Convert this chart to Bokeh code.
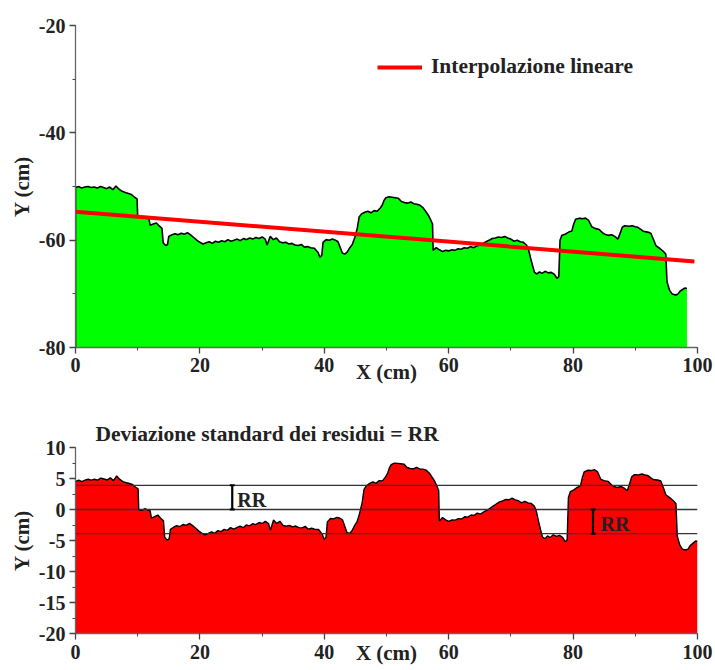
import numpy as np
from bokeh.plotting import figure
from bokeh.layouts import column
from bokeh.models import SingleIntervalTicker, Range1d, Legend, LegendItem, PrintfTickFormatter
from bokeh.embed import file_html
from bokeh.resources import INLINE

# ---- data ----
x_cm = [0.0, 0.5, 1.0, 1.5, 2.0, 2.5, 3.0, 3.5, 4.0, 4.5, 5.0, 5.5, 6.0, 6.5, 7.0, 7.5, 8.0, 8.5, 9.0, 9.5, 9.9,
        10.0, 10.5, 11.0, 11.5, 11.8, 12.0, 12.5, 13.0, 13.5, 13.9, 14.1, 14.5, 14.8, 15.0, 15.5, 16.0, 16.5,
        17.0, 17.5, 18.0, 18.5, 19.0, 19.5, 20.0, 20.5, 21.0, 21.5, 22.0, 22.5, 23.0, 23.5, 24.0, 24.5, 25.0,
        25.5, 26.0, 26.5, 27.0, 27.5, 28.0, 28.5, 29.0, 29.5, 30.0, 30.5, 30.8, 31.3, 31.8, 32.3, 32.8, 33.3,
        33.8, 34.3, 34.8, 35.3, 35.8, 36.3, 36.8, 37.3, 37.8, 38.4, 39.0, 39.3, 39.6, 39.8, 40.3, 40.8, 41.3,
        41.8, 42.2, 42.5, 42.9, 43.3, 43.7, 44.1, 44.5, 44.9, 45.3, 45.6, 46.0, 46.5, 47.0, 47.5, 48.0, 48.5,
        49.0, 49.3, 49.6, 49.9, 50.4, 50.9, 51.4, 51.9, 52.4, 52.9, 53.4, 53.9, 54.4, 54.9, 55.4, 55.9, 56.4,
        56.8, 57.1, 57.4, 57.5, 58.0, 58.5, 59.0, 59.5, 60.0, 60.5, 61.0, 61.5, 62.0, 62.5, 63.0, 63.5, 64.0,
        64.5, 65.0, 65.5, 66.0, 66.5, 67.0, 67.5, 68.0, 68.5, 69.0, 69.5, 70.0, 70.5, 71.0, 71.5, 72.0, 72.5,
        72.8, 73.2, 73.5, 73.8, 74.2, 74.6, 75.0, 75.5, 76.0, 76.5, 77.0, 77.4, 77.7, 77.9, 78.2, 78.7, 79.3,
        79.8, 80.1, 80.4, 81.0, 81.5, 82.0, 82.5, 83.0, 83.5, 84.2, 84.7, 85.1, 85.6, 86.2, 86.7, 87.2, 87.6,
        87.9, 88.3, 89.0, 89.5, 90.0, 90.4, 91.0, 91.4, 92.0, 92.5, 93.0, 93.3, 94.0, 94.6, 94.9, 95.1, 95.5,
        95.9, 96.4, 96.8, 97.2, 97.6, 98.0, 98.3]
y_cm = [-50.2, -50.0, -50.3, -50.1, -50.0, -50.2, -50.1, -50.3, -50.0, -50.2, -50.4, -50.1, -50.6, -49.9, -50.5,
        -50.9, -51.1, -51.3, -51.5, -52.0, -52.3,
        -55.7, -55.8, -55.6, -55.9, -56.0, -57.2, -57.0, -56.8, -57.4, -57.8, -60.5, -61.0, -60.8, -59.3, -59.0,
        -58.8, -59.0, -58.7, -58.9, -58.6, -59.0, -59.5, -60.0, -60.4, -60.7, -60.5, -60.3, -60.6, -60.2, -60.4,
        -60.1, -60.3, -59.9, -60.2, -60.0, -59.8, -60.1, -59.7, -59.9, -59.6, -59.8, -59.5, -59.7, -59.4, -59.8,
        -60.9, -59.3, -59.9, -59.6, -60.3, -60.5, -60.4, -60.7, -60.6, -60.9, -61.0, -60.8, -61.3, -61.2, -61.4,
        -61.5, -62.3, -63.2, -62.8, -60.4, -59.9, -60.0, -59.8, -60.0, -60.3, -61.2, -62.4, -62.6, -62.2, -61.4,
        -60.8, -59.5, -57.8, -55.7, -55.1, -54.8, -54.6, -54.9, -54.5, -54.6, -54.0, -53.5, -52.6, -52.1, -51.9,
        -52.0, -52.1, -52.2, -52.8, -53.0, -53.1, -52.9, -53.2, -53.3, -53.5, -54.0, -54.8, -55.5, -56.2, -57.0,
        -61.9, -61.4, -61.8, -62.1, -61.9, -62.0, -61.8, -61.9, -61.6, -61.7, -61.4, -61.5, -61.2, -61.4, -61.1,
        -60.9, -60.6, -60.3, -60.0, -59.7, -59.6, -59.4, -59.5, -59.3, -59.6, -59.8, -60.2, -60.0, -60.3, -60.4,
        -60.9, -61.6, -63.5, -64.8, -66.0, -66.3, -65.9, -66.2, -65.8, -66.1, -66.0, -66.4, -67.1, -66.8, -60.0,
        -59.1, -58.9, -58.5, -58.3, -57.0, -56.1, -55.9, -56.0, -55.9, -56.3, -57.5, -57.8, -58.0, -58.6, -58.9,
        -59.1, -59.0, -59.3, -59.8, -58.6, -57.6, -57.3, -57.4, -57.3, -57.5, -57.6, -58.1, -58.4, -58.5, -58.7,
        -60.1, -61.0, -61.6, -62.2, -62.6, -67.8, -69.3, -70.0, -70.2, -70.1, -69.5, -69.2, -68.9, -69.0]

fit_intercept = -54.7     # linear interpolation at X = 0
fit_slope = -0.093        # cm per cm
fit_x = [0, 99.5]
rr = 3.9                  # standard deviation of residuals
rr_bar_x = [25.2, 83.2]
rr_label_x = [26.0, 84.4]
rr_label_y = [1.5, -2.3]

top_y_range = (-80, -20)
bot_y_range = (-20, 10)
x_range = (0, 100)

FONT = "Liberation Serif"

x = np.array(x_cm)
y = np.array(y_cm)
fit_y = [fit_intercept + fit_slope * v for v in fit_x]
resid = y - (fit_intercept + fit_slope * x)
x_res = x * 100.0 / x[-1]


def style(p, y_interval):
    p.outline_line_color = None
    p.xgrid.visible = False
    p.ygrid.visible = False
    p.xaxis.ticker = SingleIntervalTicker(interval=20, num_minor_ticks=2)
    p.yaxis.ticker = SingleIntervalTicker(interval=y_interval, num_minor_ticks=2)
    p.xaxis.formatter = PrintfTickFormatter(format="%d")
    p.yaxis.formatter = PrintfTickFormatter(format="%d")
    for ax in (p.xaxis[0], p.yaxis[0]):
        ax.axis_line_color = "#666666"
        ax.axis_line_width = 1.3
        ax.major_tick_line_color = "#444444"
        ax.minor_tick_line_color = "#444444"
        ax.major_tick_line_width = 1.3
        ax.major_tick_out = 6
        ax.major_tick_in = 0
        ax.minor_tick_out = 3
        ax.minor_tick_in = 0
        ax.major_label_text_font = FONT
        ax.major_label_text_font_style = "bold"
        ax.major_label_text_font_size = "20px"
        ax.major_label_text_color = "#222222"
        ax.axis_label_text_font = FONT
        ax.axis_label_text_font_style = "bold"
        ax.axis_label_text_font_size = "21px"
        ax.axis_label_text_color = "#222222"
    p.yaxis.major_label_standoff = 4
    p.yaxis.axis_label_standoff = 2


# ---- top figure ----
p1 = figure(width=715, height=394, output_backend="svg", toolbar_location=None,
            x_range=Range1d(*x_range), y_range=Range1d(*top_y_range),
            min_border_left=73, min_border_right=18, min_border_top=25, min_border_bottom=47)
style(p1, 20)
p1.varea(x=x, y1=top_y_range[0], y2=y, fill_color="#00ff00")
p1.line(x=np.concatenate([[x[0]], x]), y=np.concatenate([[top_y_range[0]], y]),
        line_color="black", line_width=1.6)
fit_r = p1.line(x=fit_x, y=fit_y, line_color="#ff0000", line_width=4)
p1.xaxis.axis_label = "X (cm)"
p1.xaxis.major_label_standoff = 4
p1.xaxis.axis_label_standoff = -15
p1.yaxis.axis_label = "Y (cm)"

legend = Legend(items=[LegendItem(label="Interpolazione lineare", renderers=[fit_r])],
                location=(302, 268), padding=0, margin=0, spacing=0,
                glyph_width=45, glyph_height=20, label_standoff=9,
                border_line_color=None, background_fill_alpha=0,
                label_text_font=FONT, label_text_font_style="bold",
                label_text_font_size="21.5px", label_text_color="#222222")
p1.add_layout(legend)

# ---- bottom figure ----
p2 = figure(width=715, height=276, output_backend="svg", toolbar_location=None,
            x_range=Range1d(*x_range), y_range=Range1d(*bot_y_range),
            min_border_left=75, min_border_right=18, min_border_top=53, min_border_bottom=37,
            title="Deviazione standard dei residui = RR")
style(p2, 5)
p2.title.text_font = FONT
p2.title.text_font_style = "bold"
p2.title.text_font_size = "21.5px"
p2.title.text_color = "#222222"
p2.title.offset = 20
p2.title.standoff = 4
p2.varea(x=x_res, y1=bot_y_range[0], y2=resid, fill_color="#ff0000")
p2.line(x=x_res, y=resid, line_color="black", line_width=1.4)
p2.segment(x0=[x_range[0]] * 3, x1=[x_range[1]] * 3, y0=[rr, 0, -rr], y1=[rr, 0, -rr],
           line_color="#333333", line_width=1.3)
bar_y1 = [rr, -rr]
p2.segment(x0=rr_bar_x, x1=rr_bar_x, y0=[0, 0], y1=bar_y1, line_color="black", line_width=2.2)
cap = 0.4
p2.segment(x0=[v - cap for v in rr_bar_x] * 2, x1=[v + cap for v in rr_bar_x] * 2,
           y0=[0, 0] + bar_y1, y1=[0, 0] + bar_y1, line_color="black", line_width=2)
p2.text(x=rr_label_x, y=rr_label_y, text=["RR", "RR"], text_font=FONT, text_font_style="bold",
        text_font_size="20px", text_color="#222222", text_baseline="middle", text_align="left")
p2.xaxis.axis_label = "X (cm)"
p2.xaxis.major_label_standoff = 5
p2.xaxis.axis_label_standoff = -21
p2.yaxis.axis_label = "Y (cm)"

layout = column(p1, p2, spacing=0)
open("out.html", "w").write(file_html(layout, INLINE))
